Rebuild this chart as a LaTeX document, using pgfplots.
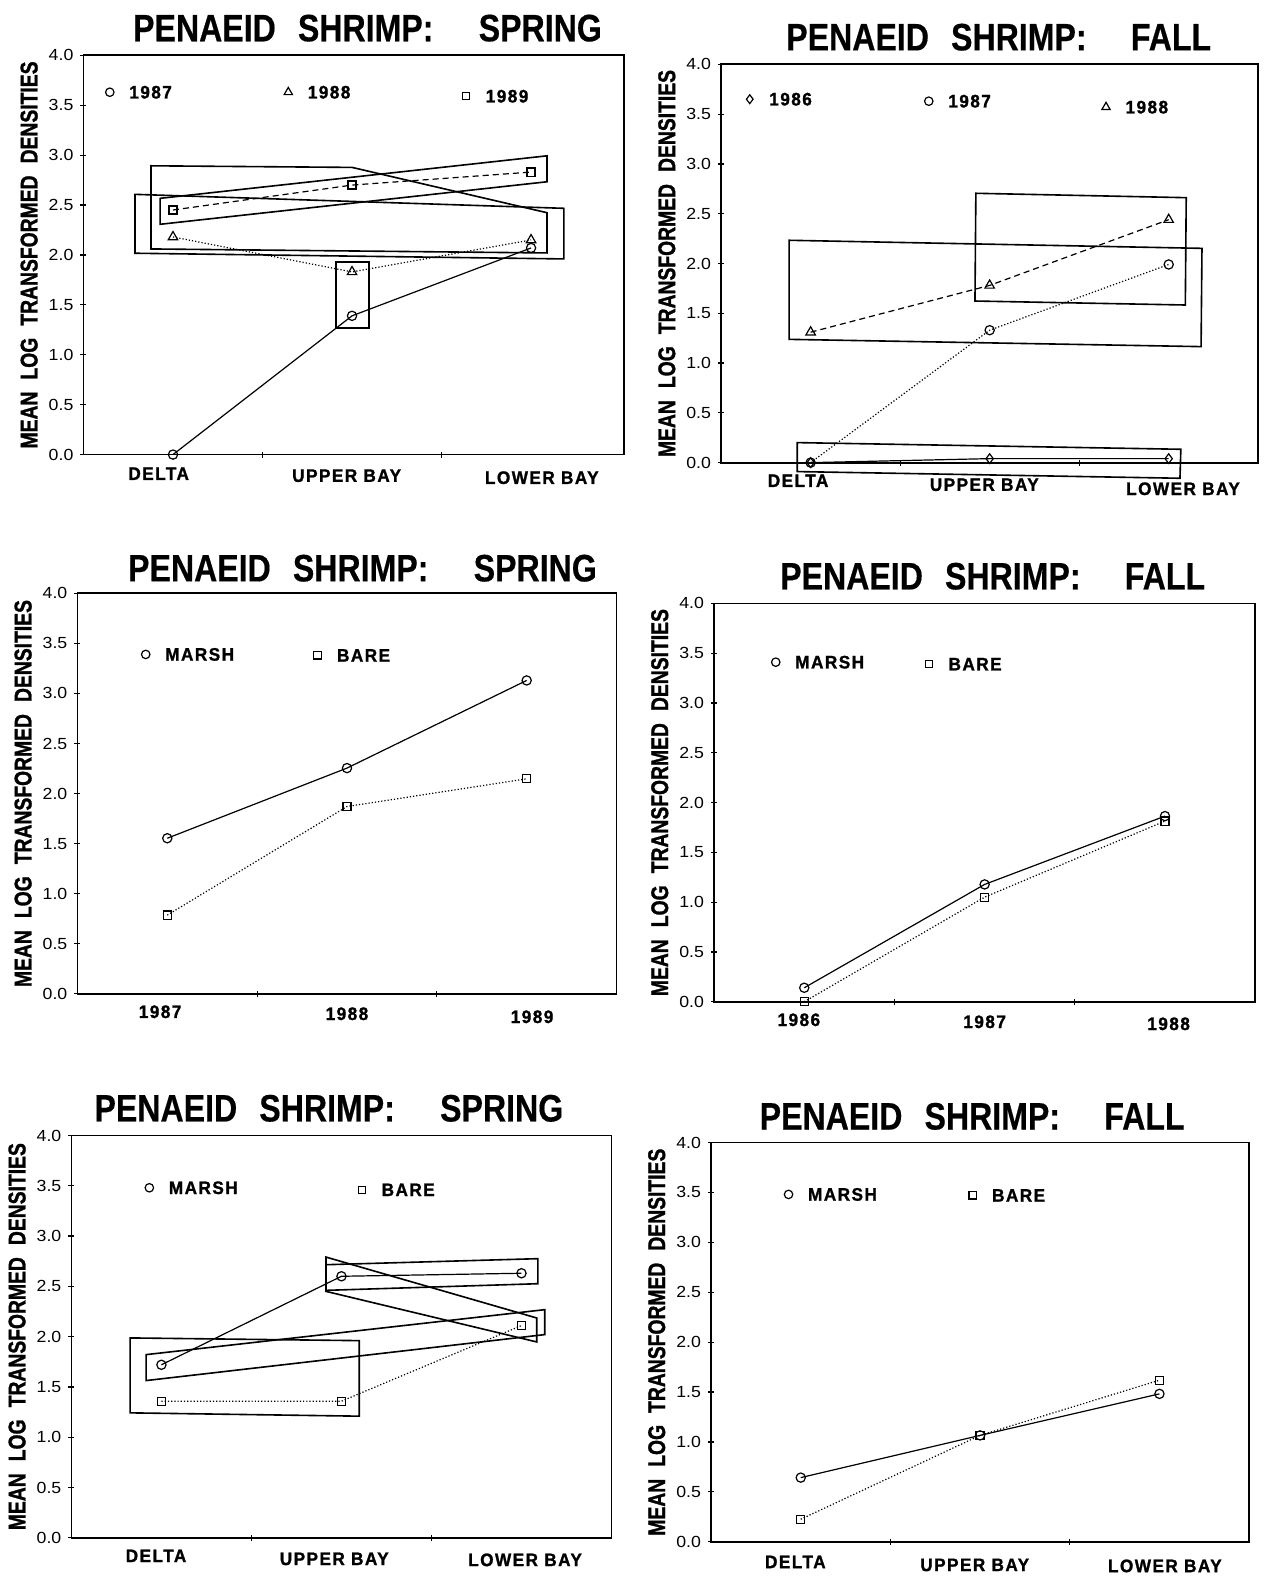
\documentclass[border=0pt]{standalone}
\usepackage{fontspec}
\usepackage{pgfplots}
\pgfplotsset{compat=1.18}
\setmainfont{Liberation Sans}
\newfontfamily\titlefam[FakeStretch=0.84, BoldFeatures={FakeBold=0.4}]{Liberation Sans}
\newfontfamily\labfam[FakeStretch=0.8, BoldFeatures={FakeBold=1.2}]{Liberation Sans}
\newfontfamily\catfam[FakeStretch=0.95,LetterSpace=8, BoldFeatures={FakeBold=1.2}]{Liberation Sans}
\newfontfamily\tickfam[FakeStretch=1.1]{Liberation Sans}
\newcommand\titf{\titlefam\bfseries\fontsize{19}{22}\selectfont}
\newcommand\ylabf{\labfam\bfseries\fontsize{12}{14}\selectfont}
\newcommand\catf{\catfam\bfseries\fontsize{9}{11}\selectfont}
\newcommand\tickf{\tickfam\fontsize{8}{10}\selectfont}

\pgfplotsset{
  panel/.style={
    scale only axis, clip=false, anchor=south west,
    xmin=0.5, xmax=3.5, ymin=0, ymax=4,
    xtick={1.5,2.5}, xticklabels={},
    ytick={0,0.5,1,1.5,2,2.5,3,3.5,4},
    yticklabel style={font=\tickf, /pgf/number format/.cd, fixed, fixed zerofill, precision=1, assume math mode=true},
    tick pos=left,
    tick align=center, major tick length=3pt,
    tick style={black, line width=0.6pt},
    axis line style={black, line width=0.9pt},
    every axis y label/.style={at={(rel axis cs:0,0.5)}, xshift=-27pt, rotate=90, anchor=center, font=\ylabf},
    ylabel={MEAN\hspace{0.5em}LOG\hspace{0.5em}TRANSFORMED\hspace{0.5em}DENSITIES},
  },
  mygrp/.style={black, line width=0.8pt, mark=none, line join=miter},
  myser/.style={black, line width=0.6pt, mark options={solid, fill=white, line width=0.6pt}},
  mysol/.style={myser, solid},
  mydot/.style={myser, densely dotted},
  mydash/.style={myser, dash pattern=on 3pt off 2pt},
  mc/.style={mark=o, mark size=2.3pt},
  mt/.style={mark=triangle, mark size=2.7pt},
  ms/.style={mark=square, mark size=2pt},
  md/.style={mark=diamond, mark size=2.4pt},
  leg/.style={black, only marks, mark options={fill=white, line width=0.6pt}},
}
\newcommand{\cat}[3]{\node[font=\catf, anchor=center, inner sep=0pt, yshift=-#2pt] at (axis cs:#1,0) {#3};}
\newcommand{\legtxt}[3]{\node[font=\catf, anchor=west, inner sep=0pt, xshift=9.5pt] at (axis cs:#1,#2) {#3};}

\begin{document}
\begin{tikzpicture}
\useasboundingbox (0,0) rectangle (631pt,784pt);

% ---------------- Panel 1: Spring, years ----------------
\begin{axis}[panel, at={(41.5pt,558pt)}, width=268.8pt, height=198.5pt, xmax=3.52]
\addplot[mygrp] coordinates {(1.91,1.27) (2.095,1.27) (2.095,1.93) (1.91,1.93)} -- cycle;
\addplot[mygrp] coordinates {(0.928,2.567) (3.089,2.993) (3.089,2.733) (0.928,2.307)} -- cycle;
\addplot[mygrp] coordinates {(0.877,2.893) (2.0,2.877) (3.089,2.423) (3.089,2.02) (0.877,2.06)} -- cycle;
\addplot[mygrp] coordinates {(0.788,2.607) (3.183,2.467) (3.183,1.96) (0.788,2.017)} -- cycle;
\addplot[mysol, mc] coordinates {(1,0) (2,1.39) (3,2.07)};
\addplot[mydot, mt] coordinates {(1,2.18) (2,1.83) (3,2.15)};
\addplot[mydash, ms] coordinates {(1,2.45) (2,2.70) (3,2.83)};
\addplot[leg, mark=o, mark size=2.1pt] coordinates {(0.647,3.63)};
\legtxt{0.647}{3.63}{1987}
\addplot[leg, mark=triangle, mark size=2.4pt] coordinates {(1.644,3.63)};
\legtxt{1.644}{3.63}{1988}
\addplot[leg, mark=square, mark size=1.8pt] coordinates {(2.638,3.59)};
\legtxt{2.638}{3.59}{1989}
\cat{0.92}{9.5}{DELTA}
\cat{1.97}{10.5}{UPPER BAY}
\cat{3.06}{11.5}{LOWER BAY}
\end{axis}

% ---------------- Panel 2: Fall, years ----------------
\begin{axis}[panel, at={(358.5pt,554pt)}, width=267pt, height=198pt]
\addplot[mygrp] coordinates {(0.88,2.233) (3.186,2.152) (3.181,1.165) (0.88,1.238)} -- cycle;
\addplot[mygrp] coordinates {(1.923,2.705) (3.098,2.661) (3.093,1.583) (1.918,1.623)} -- cycle;
\addplot[mygrp] coordinates {(0.925,0.201) (3.068,0.134) (3.063,-0.157) (0.925,-0.09)} -- cycle;
\addplot[mysol, md] coordinates {(1,0) (2,0.04) (3,0.04)};
\addplot[mydot, mc] coordinates {(1,0) (2,1.33) (3,1.99)};
\addplot[mydash, mt] coordinates {(1,1.31) (2,1.78) (3,2.44)};
\addplot[leg, mark=diamond, mark size=2.2pt] coordinates {(0.66,3.65)};
\legtxt{0.66}{3.65}{1986}
\addplot[leg, mark=o, mark size=2.1pt] coordinates {(1.66,3.63)};
\legtxt{1.66}{3.63}{1987}
\addplot[leg, mark=triangle, mark size=2.4pt] coordinates {(2.65,3.57)};
\legtxt{2.65}{3.57}{1988}
\cat{0.93}{9}{DELTA}
\cat{1.97}{11}{UPPER BAY}
\cat{3.08}{13}{LOWER BAY}
\end{axis}

% ---------------- Panel 3: Spring, habitat by year ----------------
\begin{axis}[panel, at={(38.5pt,290pt)}, width=268pt, height=199pt]
\addplot[mysol, mc] coordinates {(1,1.553) (2,2.254) (3,3.13)};
\addplot[mydot, ms] coordinates {(1,0.785) (2,1.87) (3,2.147)};
\addplot[leg, mark=o, mark size=2.1pt] coordinates {(0.88,3.39)};
\legtxt{0.88}{3.39}{MARSH}
\addplot[leg, mark=square, mark size=1.8pt] coordinates {(1.836,3.38)};
\legtxt{1.836}{3.38}{BARE}
\cat{0.96}{9}{1987}
\cat{2.0}{10}{1988}
\cat{3.03}{11.5}{1989}
\end{axis}

% ---------------- Panel 4: Fall, habitat by year ----------------
\begin{axis}[panel, at={(355pt,286pt)}, width=269pt, height=198pt]
\addplot[mysol, mc] coordinates {(1,0.14) (2,1.178) (3,1.864)};
\addplot[mydot, ms] coordinates {(1,0) (2,1.05) (3,1.814)};
\addplot[leg, mark=o, mark size=2.1pt] coordinates {(0.842,3.41)};
\legtxt{0.842}{3.41}{MARSH}
\addplot[leg, mark=square, mark size=1.8pt] coordinates {(1.692,3.39)};
\legtxt{1.692}{3.39}{BARE}
\cat{0.97}{9}{1986}
\cat{2.0}{10}{1987}
\cat{3.02}{11}{1988}
\end{axis}

% ---------------- Panel 5: Spring, habitat by region ----------------
\begin{axis}[panel, at={(35.5pt,19.5pt)}, width=268.5pt, height=200pt]
\addplot[mygrp] coordinates {(0.826,1.987) (2.099,1.96) (2.099,1.209) (0.826,1.242)} -- cycle;
\addplot[mygrp] coordinates {(0.915,1.821) (3.129,2.268) (3.129,2.02) (0.915,1.563)} -- cycle;
\addplot[mygrp] coordinates {(1.914,2.715) (3.091,2.775) (3.091,2.526) (1.914,2.46)} -- cycle;
\addplot[mygrp] coordinates {(1.914,2.791) (3.085,2.185) (3.085,1.947) (1.914,2.45)} -- cycle;
\addplot[mysol, mc] coordinates {(1,1.72) (2,2.60) (3,2.63)};
\addplot[mydot, ms] coordinates {(1,1.358) (2,1.358) (3,2.11)};
\addplot[leg, mark=o, mark size=2.1pt] coordinates {(0.933,3.48)};
\legtxt{0.933}{3.48}{MARSH}
\addplot[leg, mark=square, mark size=1.8pt] coordinates {(2.115,3.46)};
\legtxt{2.115}{3.46}{BARE}
\cat{0.97}{9}{DELTA}
\cat{1.96}{10.5}{UPPER BAY}
\cat{3.02}{11}{LOWER BAY}
\end{axis}

% ---------------- Panel 6: Fall, habitat by region ----------------
\begin{axis}[panel, at={(353.5pt,17.5pt)}, width=267.5pt, height=198.5pt]
\addplot[mysol, mc] coordinates {(1,0.643) (2,1.066) (3,1.482)};
\addplot[mydot, ms] coordinates {(1,0.226) (2,1.066) (3,1.619)};
\addplot[leg, mark=o, mark size=2.1pt] coordinates {(0.932,3.48)};
\legtxt{0.932}{3.48}{MARSH}
\addplot[leg, mark=square, mark size=1.8pt] coordinates {(1.958,3.47)};
\legtxt{1.958}{3.47}{BARE}
\cat{0.97}{10}{DELTA}
\cat{1.97}{11.5}{UPPER BAY}
\cat{3.03}{12}{LOWER BAY}
\end{axis}

% ---------------- Titles ----------------
\node[font=\titf, inner sep=0pt] at (182.7pt,770pt) {PENAEID\hspace{11pt}SHRIMP:\hspace{22.5pt}SPRING};
\node[font=\titf, inner sep=0pt] at (496.5pt,765.5pt) {PENAEID\hspace{11pt}SHRIMP:\hspace{22pt}FALL};
\node[font=\titf, inner sep=0pt] at (180.2pt,501.5pt) {PENAEID\hspace{11pt}SHRIMP:\hspace{22.5pt}SPRING};
\node[font=\titf, inner sep=0pt] at (493.5pt,497.5pt) {PENAEID\hspace{11pt}SHRIMP:\hspace{22pt}FALL};
\node[font=\titf, inner sep=0pt] at (163.5pt,233pt) {PENAEID\hspace{11pt}SHRIMP:\hspace{22.5pt}SPRING};
\node[font=\titf, inner sep=0pt] at (483.3pt,229pt) {PENAEID\hspace{11pt}SHRIMP:\hspace{22pt}FALL};
\end{tikzpicture}
\end{document}
